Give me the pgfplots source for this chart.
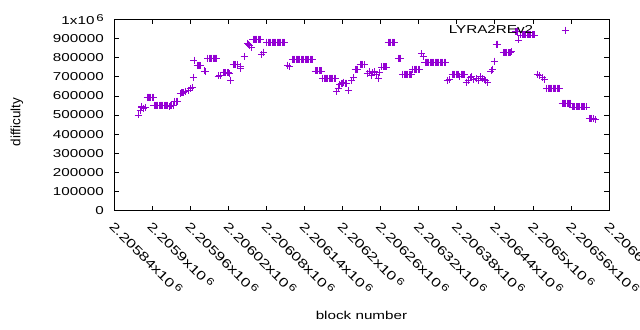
\documentclass[border=0pt]{standalone}
\usepackage{pgfplots}
\pgfplotsset{compat=1.18}
\usepackage{fontspec}
\setmainfont{Liberation Sans}[FakeStretch=1.33]
\newfontfamily\ylfont{Liberation Sans}
\definecolor{gpviolet}{HTML}{9400D3}
\newcommand{\sixsup}{\,\raisebox{0.55ex}{\fontsize{10}{10}\selectfont 6}}
\begin{document}
\begin{tikzpicture}[font=\fontsize{11.5}{13}\selectfont]
\useasboundingbox (0,0) rectangle (640bp,330bp);
\begin{axis}[
  at={(114bp,119.3bp)}, anchor=south west,
  scale only axis, width=495bp, height=191.4bp,
  xmin=0, xmax=780, ymin=0, ymax=1000000,
  xtick={0,60,...,780},
  xticklabels={2.20584x10\sixsup,2.2059x10\sixsup,2.20596x10\sixsup,2.20602x10\sixsup,2.20608x10\sixsup,2.20614x10\sixsup,2.2062x10\sixsup,2.20626x10\sixsup,2.20632x10\sixsup,2.20638x10\sixsup,2.20644x10\sixsup,2.2065x10\sixsup,2.20656x10\sixsup,2.20662x10\sixsup},
  ytick={0,100000,...,1000000},
  yticklabels={0,100000,200000,300000,400000,500000,600000,700000,800000,900000,1x10\sixsup},
  scaled ticks=false,
  /pgf/number format/assume math mode=true,
  tick align=inside, tick pos=both,
  major tick length=5bp,
  axis line style={line width=0.8pt},
  tick style={line width=0.6pt, black},
  xticklabel style={yshift=-9bp, xshift=2bp, rotate=-45, anchor=north west, inner sep=0pt, font=\fontsize{12.5}{13}\selectfont},
  yticklabel style={anchor=east, inner sep=0pt, xshift=-10bp},
  xlabel={block number},
  ylabel={\ylfont\fontsize{13.5}{14}\selectfont difficulty},
  xlabel style={at={(axis description cs:0.5,-0.545)}, anchor=center},
  ylabel style={at={(axis description cs:-0.196,0.463)}, anchor=center},
  legend style={draw=none, fill=none, at={(rel axis cs:0.925,0.943)}, anchor=east, legend cell align=right},
  legend plot pos=right,
  legend image code/.code={\path[draw=none, fill=none] (0bp,-1bp) rectangle (32bp,1bp); \draw[#1, only marks] plot coordinates {(30bp,0bp)};},
]
\addplot[only marks, mark=+, mark size=3.5bp, line width=0.9pt, color=gpviolet] coordinates {
(38,500000)(41,525000)(43,540000)(44,545000)(46,535000)(49,540000)
(52,594000)(54,594000)(56,594000)(58,594000)(60,594000)(62,594000)
(63,552000)(65,550000)(67,552000)(69,552000)(71,548000)(73,552000)(75,552000)(77,552000)(79,550000)(81,552000)(83,552000)(85,552000)(87,545000)(89,552000)(91,552000)(93,552000)
(96,570000)(98,572000)(100,572000)
(104,612000)(106,615000)(108,615000)(110,618000)(112,625000)
(117,630000)(120,637000)(123,642000)
(125,698000)(126,787000)
(131,761000)(133,761000)(135,761000)(137,758000)
(142,730000)(144,727000)
(148,797000)(150,797000)(152,797000)(154,797000)(156,797000)(158,797000)(160,797000)(162,797000)
(164,704000)(167,706000)
(172,720000)(174,720000)(176,720000)(178,720000)(180,720000)(182,718000)
(184,682000)
(188,765000)(190,765000)(192,765000)(194,762000)
(199,752000)(200,745000)
(205,808000)
(210,875000)(212,870000)(214,865000)(216,855000)
(219,897000)(221,897000)(223,897000)(225,897000)(227,897000)(229,897000)(231,897000)
(233,816000)(235,828000)(236,828000)
(241,881000)(243,881000)(245,881000)(247,881000)(249,881000)(251,881000)(253,881000)(255,881000)(257,881000)(259,881000)(261,881000)(263,881000)(265,881000)(267,881000)(269,881000)
(273,760000)(276,755000)
(281,792000)(283,792000)(285,792000)(287,792000)(289,792000)(291,792000)(293,792000)(295,792000)(297,792000)(299,792000)(301,792000)(303,792000)(305,792000)(307,792000)(309,792000)(311,792000)(313,792000)
(317,730000)(319,730000)(321,730000)(323,730000)(325,730000)(327,730000)
(329,693000)(331,693000)(333,693000)(335,693000)(337,693000)(339,693000)(341,693000)(343,693000)(345,693000)(347,693000)(349,693000)
(351,625000)(353,637000)
(356,660000)(358,665000)(360,667000)(362,672000)(364,667000)(366,667000)
(369,626000)
(374,680000)(377,695000)
(380,740000)(382,740000)(383,740000)
(388,766000)(390,766000)(392,766000)(394,762000)
(399,715000)(402,728000)(405,705000)(407,720000)(410,725000)(413,712000)(416,693000)(419,720000)
(422,751000)(424,751000)(426,751000)(428,751000)(429,751000)
(432,881000)(434,881000)(436,881000)(438,881000)(440,881000)(442,881000)
(448,797000)(450,797000)(451,797000)
(455,714000)(457,714000)(459,714000)(461,714000)(463,714000)(465,714000)(467,714000)(469,714000)
(471,740000)(473,740000)(475,740000)(477,740000)(479,740000)(481,740000)
(485,820000)(487,805000)
(490,776000)(492,776000)(494,776000)(496,776000)(498,776000)(500,776000)(502,776000)(504,776000)(506,776000)(508,776000)(510,776000)(512,776000)(514,776000)(516,776000)(518,776000)(520,776000)(522,776000)
(525,682000)(528,685000)
(533,714000)(535,714000)(537,714000)(539,714000)(541,714000)(543,714000)(545,700000)(547,714000)(549,714000)(551,714000)(553,714000)
(555,672000)(558,680000)
(561,695000)(564,700000)(567,685000)(571,690000)(574,680000)(577,700000)(580,690000)(583,685000)(586,678000)
(589,668000)
(594,730000)(597,740000)
(599,782000)
(602,870000)(604,870000)(605,870000)
(613,825000)(615,825000)(617,825000)(619,825000)(621,825000)(623,825000)(625,825000)(627,830000)
(632,934000)(634,934000)(635,934000)
(637,892000)
(641,918000)(643,918000)(645,918000)(647,918000)(649,918000)(651,918000)(653,918000)(655,918000)(657,918000)(659,918000)(661,918000)(663,918000)
(667,714000)(668,710000)
(671,705000)(675,695000)(678,685000)
(682,640000)(684,640000)(686,640000)(688,640000)(690,640000)(692,640000)(694,640000)(696,640000)(698,640000)(700,640000)(702,640000)
(706,562000)(708,562000)(710,562000)(712,562000)(714,562000)(716,562000)(718,562000)(720,562000)
(722,542000)(724,542000)(726,542000)(728,542000)(730,542000)(732,542000)(734,542000)(736,542000)(738,542000)(740,542000)(742,542000)(744,542000)
(749,483000)(751,483000)(753,483000)(755,480000)(758,475000)
};
\addlegendentry{LYRA2REv2}
\end{axis}
\end{tikzpicture}
\end{document}
